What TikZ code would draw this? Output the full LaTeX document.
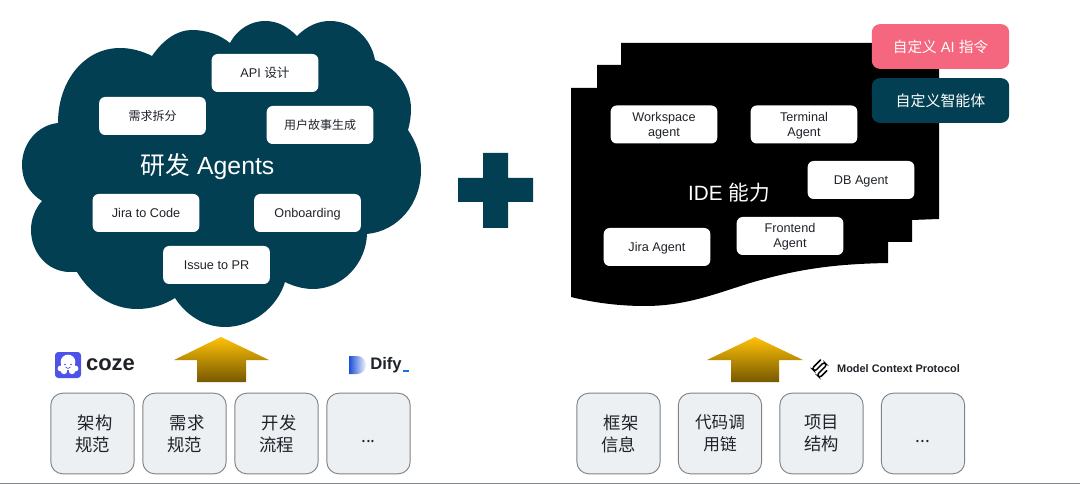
\documentclass[tikz,border=0pt]{standalone}
\usepackage{fontspec}
\usepackage{xcolor}
\setmainfont{Liberation Sans}
\newfontfamily\cjk{Noto Sans CJK SC}
\usetikzlibrary{positioning}
\definecolor{tealdark}{HTML}{033F52}
\definecolor{pinkbtn}{HTML}{F5667F}
\definecolor{cardfill}{HTML}{EDF0F3}
\definecolor{cardline}{HTML}{808487}
\definecolor{cozeblue}{HTML}{4D53E8}
\definecolor{difyblue}{HTML}{1C4FD8}
\definecolor{arrowtop}{HTML}{FFC107}
\definecolor{arrowbot}{HTML}{765800}
\definecolor{inkdark}{HTML}{1F2329}
\newcommand{\leadgap}{\hspace*{3.75pt}}

\begin{document}
\begin{tikzpicture}[x=0.75pt,y=-0.75pt,
  agentbox/.style={fill=white,rounded corners=4.5pt,minimum width=80pt,minimum height=28.5pt,inner sep=0pt,align=center,text=inkdark,text height=7pt,text depth=0pt,font=\fontsize{9.5}{11.25}\selectfont},
  twoline/.style={text height=18pt,text depth=0pt},
  btnbox/.style={rounded corners=6pt,minimum width=103pt,minimum height=33.5pt,inner sep=0pt,text=white,font=\fontsize{11}{13}\selectfont},
  cardbox/.style={draw=cardline,line width=0.7pt,fill=cardfill,rounded corners=9pt,minimum width=62.5pt,minimum height=60.5pt,inner sep=0pt,align=center,text=inkdark,font=\cjk\fontsize{13}{16.5}\selectfont},
  dotsbox/.style={cardbox,text height=14.2pt,text depth=0pt},
  titletext/.style={text=white,inner sep=0pt},
  uparrow/.style={top color=arrowtop,bottom color=arrowbot,draw=none}]
\useasboundingbox (0,0) rectangle (1080,484);
\fill[white] (0,0) rectangle (1080,484);
\draw[cardline,line width=0.9pt] (0,483.4) -- (1080,483.4);

% cloud
\fill[tealdark] (230,43) .. controls (238,28) and (252,21) .. (265,21)
  .. controls (278,21) and (288,27) .. (297,36)
  .. controls (307,26) and (318,21) .. (330,21)
  .. controls (353,21) and (371,38) .. (375,60)
  .. controls (396,67) and (411,87) .. (411,109)
  .. controls (411,116) and (410,123) .. (408,130)
  .. controls (416,142) and (421,155) .. (421,170)
  .. controls (421,204) and (398,231) .. (367,234)
  .. controls (366,264) and (342,289) .. (313,289)
  .. controls (303,289) and (293,286) .. (285,282)
  .. controls (277,308) and (252,327) .. (225,327)
  .. controls (204,327) and (186,315) .. (175,298)
  .. controls (164,305) and (151,309) .. (137,309)
  .. controls (112,309) and (90,294) .. (77,272)
  .. controls (74,272) and (72,272) .. (70,272)
  .. controls (48,272) and (31,253) .. (31,230)
  .. controls (31,219) and (35,209) .. (42,201)
  .. controls (29,193) and (22,180) .. (22,165)
  .. controls (22,143) and (38,125) .. (58,123)
  .. controls (58,80) and (85,48) .. (120,48)
  .. controls (131,48) and (142,51) .. (152,56)
  .. controls (163,40) and (177,30) .. (192,30)
  .. controls (207,30) and (220,35) .. (230,43) -- cycle;

\node[agentbox] (api) at (265,73) {API {\cjk 设计}};
\node[agentbox,font=\cjk\fontsize{9}{11}\selectfont] (split) at (152.5,116) {需求拆分};
\node[agentbox,font=\cjk\fontsize{9}{11}\selectfont] (story) at (320,125) {用户故事生成};
\node[titletext,font=\fontsize{18.6}{21}\selectfont] (devtitle) at (207.5,166.5) {{\cjk 研发} Agents};
\node[agentbox] (jira) at (146,213) {Jira to Code};
\node[agentbox] (onboard) at (307.5,213) {Onboarding};
\node[agentbox] (issue) at (216.5,265) {Issue to PR};

% plus
\fill[tealdark] (483,153) -- (508,153) -- (508,178) -- (533,178) -- (533,202) -- (508,202)
  -- (508,228) -- (483,228) -- (483,202) -- (458,202) -- (458,178) -- (483,178) -- cycle;

% IDE sheet
\fill[black] (621,43) -- (939,43) -- (939,219) -- (912,220) -- (912,242) -- (888,242) -- (888,263)
  .. controls (830,264) and (795,270) .. (750,283)
  .. controls (715,294) and (685,306) .. (645,306)
  .. controls (620,306) and (595,303) .. (571,297)
  -- (571,88) -- (597,88) -- (597,65) -- (621,65) -- cycle;

\node[agentbox,twoline] (workspace) at (664,124.5) {Workspace\\agent};
\node[agentbox,twoline] (terminal) at (804,124.5) {Terminal\\Agent};
\node[agentbox] (db) at (861,180) {DB Agent};
\node[agentbox,twoline] (frontend) at (790,236) {Frontend\\Agent};
\node[agentbox] (jiraagent) at (657,247) {Jira Agent};
\node[titletext,font=\fontsize{15.5}{18}\selectfont] (idetitle) at (729,193) {IDE {\cjk 能力}};

\node[btnbox,fill=pinkbtn] (custcmd) at (940.5,46.5) {{\cjk 自定义} AI {\cjk 指令}};
\node[btnbox,fill=tealdark,font=\cjk\fontsize{11.2}{13}\selectfont] (custagent) at (940.5,100.5) {自定义智能体};

% up arrows
\shade[uparrow] (221,337) -- (269,360) -- (246,360) -- (246,382) -- (197,382) -- (197,360) -- (174,360) -- cycle;
\shade[uparrow] (755,337) -- (803,360) -- (779,360) -- (779,382) -- (731,382) -- (731,360) -- (707,360) -- cycle;

% coze logo
\fill[cozeblue,rounded corners=2.5pt] (55,352) rectangle (81,378);
\fill[white] (68,362) circle (5.5pt);
\fill[white] (60.5,368.5) circle (2.2pt);
\fill[white] (75.5,368.5) circle (2.2pt);
\fill[white] (64,371) circle (2.4pt);
\fill[white] (72,371) circle (2.4pt);
\fill[white] (60.7,362) rectangle (75.3,370);
\fill[cozeblue] (65,364.5) circle (0.6pt);
\fill[cozeblue] (71,364.5) circle (0.6pt);
\draw[cozeblue,line width=0.5pt] (65.5,367) .. controls (67,369) and (69,369) .. (70.5,367);
\node[inner sep=0pt,text=inkdark,font=\bfseries\fontsize{16.5}{18}\selectfont] (coze) at (110.5,364.5) {coze};

% dify logo
\shade[left color=difyblue,right color=difyblue!5] (349,356) -- (357,356)
  .. controls (362,356) and (366,360) .. (366,365) .. controls (366,370) and (362,374) .. (357,374) -- (349,374) -- cycle;
\node[inner sep=0pt,text=inkdark,font=\bfseries\fontsize{12.5}{14}\selectfont] (dify) at (386,365) {Dify};
\fill[difyblue!80!cyan] (403,369.5) rectangle (408.5,372);

% mcp logo
\begin{scope}[shift={(820.5,368.5)},rotate=-45]
\draw[black,line width=1.1pt,rounded corners=1.8pt,line cap=round] (-6,-6) -- (-6,6) -- (-2,6) -- (-2,-7) -- (2,-7) -- (2,7) -- (6,7) -- (6,-3);
\end{scope}
\node[inner sep=0pt,text=inkdark,font=\bfseries\fontsize{8.2}{10}\selectfont] (mcp) at (898.5,369) {Model Context Protocol};

% context cards
\node[cardbox] (arch) at (92.5,433.5) {\leadgap 架构\\规范};
\node[cardbox] (req) at (184.5,433.5) {\leadgap 需求\\规范};
\node[cardbox] (flow) at (276.5,433.5) {\leadgap 开发\\流程};
\node[dotsbox] (moreL) at (368.5,433.5) {...};
\node[cardbox] (frame) at (618.5,433.5) {\leadgap 框架\\信息};
\node[cardbox,font=\cjk\fontsize{12.5}{16.5}\selectfont] (chain) at (720,433.5) {代码调\\用链};
\node[cardbox] (proj) at (821.5,433.5) {项目\\结构};
\node[dotsbox] (moreR) at (923,433.5) {...};
\end{tikzpicture}
\end{document}
